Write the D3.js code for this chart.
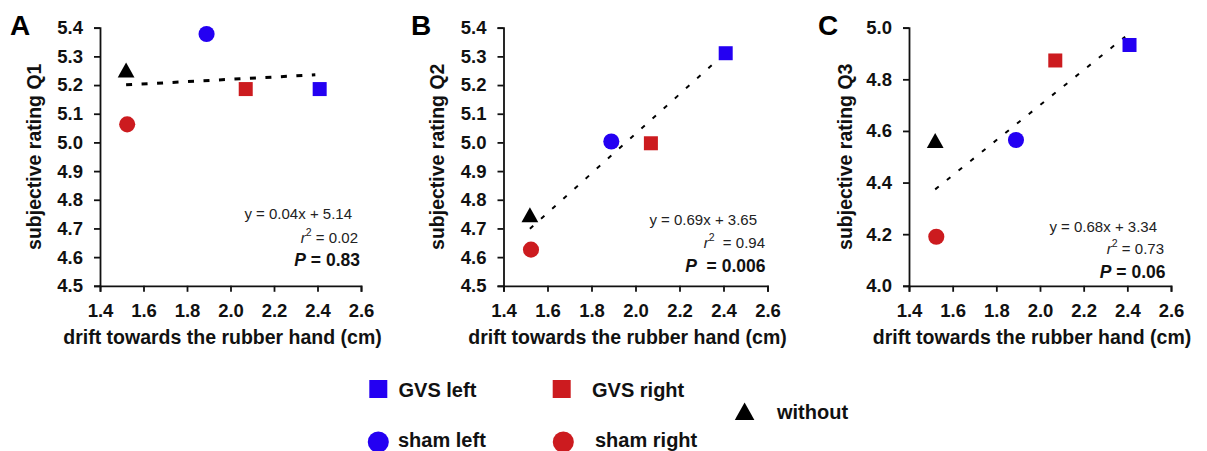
<!DOCTYPE html>
<html><head><meta charset="utf-8">
<script src="https://cdn.jsdelivr.net/npm/d3@7"></script>
<style>
body{margin:0;background:#fff;}
svg{display:block;font-family:"Liberation Sans",Arial,sans-serif;}
</style></head>
<body>
<svg id="c" width="1207" height="451"></svg>
<script>
// ---- data ----
const conditions = ["GVS left", "GVS right", "sham left", "sham right", "without"];
const drift = [2.41, 2.07, 1.89, 1.525, 1.52];
const q1 = [5.186, 5.186, 5.378, 5.063, 5.25];
const q2 = [5.311, 4.997, 5.003, 4.626, 4.745];
const q3 = [4.933, 4.873, 4.565, 4.19, 4.56];
const fitSlope = [0.04, 0.69, 0.68];
const fitIntercept = [5.14, 3.65, 3.34];
const fitRange = [1.52, 2.39];
const eqLabels = ["y = 0.04x + 5.14", "y = 0.69x + 3.65", "y = 0.68x + 3.34"];
const r2Labels = ["= 0.02", "= 0.94", "= 0.73"];
const pLabels = ["= 0.83", "= 0.006", "= 0.06"];
const panelLetters = ["A", "B", "C"];
const yTitles = ["subjective rating Q1", "subjective rating Q2", "subjective rating Q3"];
const yDomains = [[4.5, 5.4], [4.5, 5.4], [4.0, 5.0]];
const yTickValues = [
  [4.5, 4.6, 4.7, 4.8, 4.9, 5.0, 5.1, 5.2, 5.3, 5.4],
  [4.5, 4.6, 4.7, 4.8, 4.9, 5.0, 5.1, 5.2, 5.3, 5.4],
  [4.0, 4.2, 4.4, 4.6, 4.8, 5.0]
];
const xTickValues = [1.4, 1.6, 1.8, 2.0, 2.2, 2.4, 2.6];
const xDomain = [1.4, 2.6];
const xTitle = "drift towards the rubber hand (cm)";

// ---- styles ----
const BLUE = "#2400f2", RED = "#cc1b1f", BLACK = "#000";
const colorOf = {"GVS left": BLUE, "GVS right": RED, "sham left": BLUE, "sham right": RED, "without": BLACK};
const shapeOf = {"GVS left": "square", "GVS right": "square", "sham left": "circle", "sham right": "circle", "without": "triangle"};

const svg = d3.select("#c");
const series = [q1, q2, q3];
const panels = [
  {x0: 100, x1: 361, top: 27.7, bottom: 285.8, eqR: [352, 358, 360], eqY: [219, 242.5, 266]},
  {x0: 503.5, x1: 767.5, top: 27.7, bottom: 285.8, eqR: [757, 765, 765.5], eqY: [225, 248, 272]},
  {x0: 909, x1: 1171, top: 27.7, bottom: 285.8, eqR: [1157, 1164, 1165.5], eqY: [231.5, 254, 278]}
];
const yTitleX = [34, 437, 845];
const letterX = [10, 411, 818];
const dashStyles = [
  {w: 3, dash: "6,9.5"},
  {w: 2, dash: "4.5,10.5"},
  {w: 2, dash: "4.5,10.5"}
];

function drawMarker(g, shape, cx, cy, size, color) {
  if (shape === "square") {
    g.append("rect").attr("x", cx - size / 2).attr("y", cy - size / 2)
      .attr("width", size).attr("height", size).attr("fill", color);
  } else if (shape === "circle") {
    g.append("circle").attr("cx", cx).attr("cy", cy).attr("r", size / 2 + 0.8).attr("fill", color);
  } else {
    const w = size * 1.12, h = size;
    g.append("path").attr("d", `M${cx},${cy - h * 0.55}L${cx + w / 2},${cy + h * 0.45}L${cx - w / 2},${cy + h * 0.45}Z`)
      .attr("fill", color);
  }
}

panels.forEach((p, i) => {
  const x = d3.scaleLinear().domain(xDomain).range([p.x0, p.x1]);
  const y = d3.scaleLinear().domain(yDomains[i]).range([p.bottom, p.top]);
  const g = svg.append("g");

  // axes
  const ya = g.append("g").attr("transform", `translate(${p.x0},0)`)
    .call(d3.axisLeft(y).tickValues(yTickValues[i]).tickFormat(d3.format(".1f")).tickSize(6).tickPadding(11));
  const xa = g.append("g").attr("transform", `translate(0,${p.bottom})`)
    .call(d3.axisBottom(x).tickValues(xTickValues).tickFormat(d3.format(".1f")).tickSize(6).tickPadding(12));
  [ya, xa].forEach(a => {
    a.selectAll("path,line").attr("stroke", "#111").attr("stroke-width", 1.8);
    a.selectAll("text").attr("font-size", 18.5).attr("font-weight", "bold").attr("fill", "#111")
      .attr("font-family", '"Liberation Sans",Arial,sans-serif');
  });

  // fit line
  g.append("line")
    .attr("x1", x(fitRange[0])).attr("y1", y(fitSlope[i] * fitRange[0] + fitIntercept[i]))
    .attr("x2", x(fitRange[1])).attr("y2", y(fitSlope[i] * fitRange[1] + fitIntercept[i]))
    .attr("stroke", "#000").attr("stroke-width", dashStyles[i].w).attr("stroke-dasharray", dashStyles[i].dash);

  // points
  conditions.forEach((c, k) => {
    drawMarker(g, shapeOf[c], x(drift[k]), y(series[i][k]), shapeOf[c] === "triangle" ? 15 : (shapeOf[c] === "square" ? 14 : 14.5), colorOf[c]);
  });

  // titles
  g.append("text").attr("transform", `translate(${yTitleX[i]},${(p.top + p.bottom) / 2}) rotate(-90)`)
    .attr("text-anchor", "middle").attr("dominant-baseline", "central")
    .attr("font-size", 19.5).attr("font-weight", "bold").attr("fill", "#111").text(yTitles[i]);
  g.append("text").attr("x", (p.x0 + p.x1) / 2 - 8).attr("y", 344)
    .attr("text-anchor", "middle").attr("font-size", 19.5).attr("font-weight", "bold").attr("fill", "#111").text(xTitle);
  g.append("text").attr("x", letterX[i]).attr("y", 35)
    .attr("font-size", 28).attr("font-weight", "bold").attr("fill", "#000").text(panelLetters[i]);

  // equation
  g.append("text").attr("x", p.eqR[0]).attr("y", p.eqY[0]).attr("text-anchor", "end")
    .attr("font-size", 15).attr("fill", "#222").text(eqLabels[i]);
  const r2 = g.append("text").attr("x", p.eqR[1]).attr("y", p.eqY[1]).attr("text-anchor", "end")
    .attr("font-size", 15).attr("fill", "#222");
  r2.append("tspan").attr("font-style", "italic").text("r");
  r2.append("tspan").attr("font-size", 10.5).attr("dy", -7).text("2");
  r2.append("tspan").attr("dy", 7).text((i === 1 ? "\u00a0\u00a0" : "\u00a0") + r2Labels[i]);
  const pt = g.append("text").attr("x", p.eqR[2]).attr("y", p.eqY[2]).attr("text-anchor", "end")
    .attr("font-size", 17.5).attr("font-weight", "bold").attr("fill", "#111");
  pt.append("tspan").attr("font-style", "italic").text("P");
  pt.append("tspan").text((i === 1 ? "\u00a0\u00a0" : "\u00a0") + pLabels[i]);
});

// ---- legend ----
const legend = [
  {name: "GVS left", mx: 378.3, my: 389, tx: 398.5, ty: 396.5},
  {name: "GVS right", mx: 561.7, my: 389, tx: 592, ty: 396.5},
  {name: "without", mx: 744.6, my: 412, tx: 777, ty: 418.5},
  {name: "sham left", mx: 378.3, my: 442, tx: 398, ty: 447},
  {name: "sham right", mx: 563.3, my: 442, tx: 595, ty: 447}
];
const lg = svg.append("g");
legend.forEach(l => {
  const s = shapeOf[l.name];
  drawMarker(lg, s, l.mx, l.my, s === "square" ? 18 : (s === "circle" ? 19.5 : 17.5), colorOf[l.name]);
  lg.append("text").attr("x", l.tx).attr("y", l.ty).attr("font-size", 20).attr("font-weight", "bold")
    .attr("fill", "#111").text(l.name);
});
</script>
</body></html>
